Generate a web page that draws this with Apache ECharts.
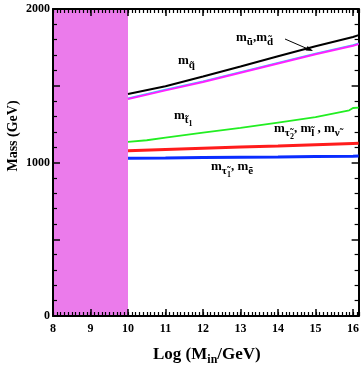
<!DOCTYPE html>
<html><head><meta charset="utf-8">
<script src="https://cdn.jsdelivr.net/npm/echarts@6/dist/echarts.min.js"></script>
<style>html,body{margin:0;padding:0;background:#fff}#c{width:362px;height:371px}</style>
</head><body><div id="c"></div>
<script>
// ---- data ----
const xTickLabels = [8, 9, 10, 11, 12, 13, 14, 15, 16];
const yTickLabels = [0, 1000, 2000];
const excludedRange = [8, 10];            // shaded Log(Min) region
const massRange = [0, 2000];
const xs = [10, 11, 12, 13, 14, 15, 16, 16.15];
const mUD = [1446, 1497, 1560, 1625, 1692, 1757, 1818, 1830];        // black
const mQcyan = [1419, 1475, 1530, 1590, 1650, 1710, 1765, 1777];     // cyan
const mQ = [1414, 1470, 1525, 1585, 1645, 1705, 1760, 1772];         // magenta
const xsStop = [10, 10.5, 11, 12, 13, 14, 15, 15.9, 16, 16.15];
const mStop = [1135, 1145, 1162, 1195, 1225, 1260, 1295, 1340, 1355, 1358]; // green
const mSlep2 = [1077, 1085, 1093, 1101, 1108, 1116, 1124, 1125];     // red
const mSlep1 = [1027, 1029, 1032, 1034, 1036, 1039, 1041, 1042];     // blue

const pair = (x, y) => x.map((v, i) => [v, y[i]]);
const FONT = '"Liberation Serif", "Times New Roman", serif';
const rich = {
  m: {fontFamily: FONT, fontWeight: 'bold', fontSize: 13, lineHeight: 15, verticalAlign: 'top', color: '#000'},
  s: {fontFamily: FONT, fontWeight: 'bold', fontSize: 11, lineHeight: 12, padding: [6, 0, 0, 0], verticalAlign: 'top', color: '#000'},
  ss: {fontFamily: FONT, fontWeight: 'bold', fontSize: 8, lineHeight: 9, padding: [11, 0, 0, 0], verticalAlign: 'top', color: '#000'}
};
const tx = (x, y, text) => ({type: 'text', x, y, z: 10, style: {text, rich, textVerticalAlign: 'top'}});

const chart = echarts.init(document.getElementById('c'), null, {renderer: 'canvas'});
const xMin = 8, xMax = 16.15;
const axLine = () => ({show: true, onZero: false, lineStyle: {color: '#000', width: 2}});
const noLine = () => ({show: false, onZero: false});
const lab = {fontFamily: FONT, fontWeight: 'bold', fontSize: 12, color: '#000'};
const majTick = () => ({show: true, inside: true, length: 7, lineStyle: {color: '#000', width: 1.5}});
const minTick = () => ({show: true, inside: true, length: 4, lineStyle: {color: '#000', width: 1.2}});
const yMinor = () => ({show: true, splitNumber: 5, length: 4, lineStyle: {color: '#000', width: 1.2}});
const gridBox = {left: 53, right: 3, top: 9, bottom: 55};
const option = {
  animation: false,
  grid: [Object.assign({}, gridBox), Object.assign({}, gridBox)],
  xAxis: [
    {type: 'value', gridIndex: 0, position: 'bottom', z: 3, min: xMin, max: xMax, interval: 1, axisLine: axLine(), axisTick: majTick(),
     axisLabel: Object.assign({margin: 7, formatter: v => xTickLabels.includes(v) ? String(v) : ''}, lab),
     splitLine: {show: false}},
    {type: 'value', gridIndex: 0, position: 'top', z: 3, min: xMin, max: xMax, interval: 1, axisLine: axLine(),
     axisTick: majTick(), axisLabel: {show: false}, splitLine: {show: false}},
    {type: 'value', gridIndex: 1, position: 'bottom', z: 3, min: xMin, max: xMax, interval: 0.1, axisLine: noLine(),
     axisTick: minTick(), axisLabel: {show: false}, splitLine: {show: false}},
    {type: 'value', gridIndex: 1, position: 'top', z: 3, min: xMin, max: xMax, interval: 0.1, axisLine: noLine(),
     axisTick: minTick(), axisLabel: {show: false}, splitLine: {show: false}}
  ],
  yAxis: [
    {type: 'value', gridIndex: 0, position: 'left', z: 3, min: massRange[0], max: massRange[1], interval: 500, axisLine: axLine(),
     axisTick: majTick(), minorTick: yMinor(),
     axisLabel: Object.assign({margin: 3, formatter: v => yTickLabels.includes(v) ? String(v) : ''}, lab),
     splitLine: {show: false}},
    {type: 'value', gridIndex: 0, position: 'right', z: 3, min: massRange[0], max: massRange[1], interval: 500, axisLine: axLine(),
     axisTick: majTick(), minorTick: yMinor(), axisLabel: {show: false}, splitLine: {show: false}},
    {type: 'value', gridIndex: 1, show: false, min: massRange[0], max: massRange[1]}
  ],
  series: [
    {type: 'line', z: 1, data: [], markArea: {silent: true, itemStyle: {color: '#eb7beb', opacity: 1},
      data: [[{xAxis: excludedRange[0], yAxis: massRange[0]}, {xAxis: excludedRange[1], yAxis: massRange[1]}]]}},
    {type: 'line', data: pair(xs, mSlep1), showSymbol: false, lineStyle: {color: '#0a2cff', width: 3}},
    {type: 'line', data: pair(xs, mSlep2), showSymbol: false, lineStyle: {color: '#ff1c1c', width: 3}},
    {type: 'line', data: pair(xsStop, mStop), showSymbol: false, lineStyle: {color: '#22ee22', width: 1.8}},
    {type: 'line', data: pair(xs, mQcyan), showSymbol: false, lineStyle: {color: '#33ccff', width: 1.5}},
    {type: 'line', data: pair(xs, mQ), showSymbol: false, lineStyle: {color: '#ff22ff', width: 2}},
    {type: 'line', data: pair(xs, mUD), showSymbol: false, lineStyle: {color: '#000', width: 2}},
    {type: 'line', xAxisIndex: 2, yAxisIndex: 2, data: [], silent: true}
  ],
  graphic: [
    {type: 'text', x: 13, y: 136, rotation: Math.PI / 2,
     style: {text: 'Mass (GeV)', font: 'bold 14px ' + FONT, fill: '#000', textAlign: 'center', textVerticalAlign: 'middle'}},
    {type: 'text', x: 153, y: 346, style: {text: '{m|Log (M}{s|in}{m|/GeV)}', textVerticalAlign: 'top', rich: {
      m: {fontFamily: FONT, fontWeight: 'bold', fontSize: 17, lineHeight: 18, verticalAlign: 'top', color: '#000'},
      s: {fontFamily: FONT, fontWeight: 'bold', fontSize: 12, lineHeight: 12, padding: [8, 0, 0, 0], verticalAlign: 'top', color: '#000'}}}},
    tx(236, 31, '{m|m}{s|u\u0303}{m|,m}{s|d\u0303}'),
    tx(178, 54, '{m|m}{s|q\u0303}'),
    tx(174, 109, '{m|m}{s|t\u0303}{ss|1}'),
    tx(274, 122, '{m|m}{s|\u03c4\u0303}{ss|2}{m|, m}{s|l\u0303}{m| , m}{s|\u03bd\u0303}'),
    tx(211, 160, '{m|m}{s|\u03c4\u0303}{ss|1}{m|, m}{s|e\u0303}'),
    {type: 'line', z: 10, shape: {x1: 285, y1: 39, x2: 308, y2: 49}, style: {stroke: '#000', lineWidth: 1}},
    {type: 'polygon', z: 10, shape: {points: [[313, 51], [305.6, 50.5], [307.6, 45.9]]}, style: {fill: '#000'}}
  ]
};
chart.setOption(option);
</script></body></html>
